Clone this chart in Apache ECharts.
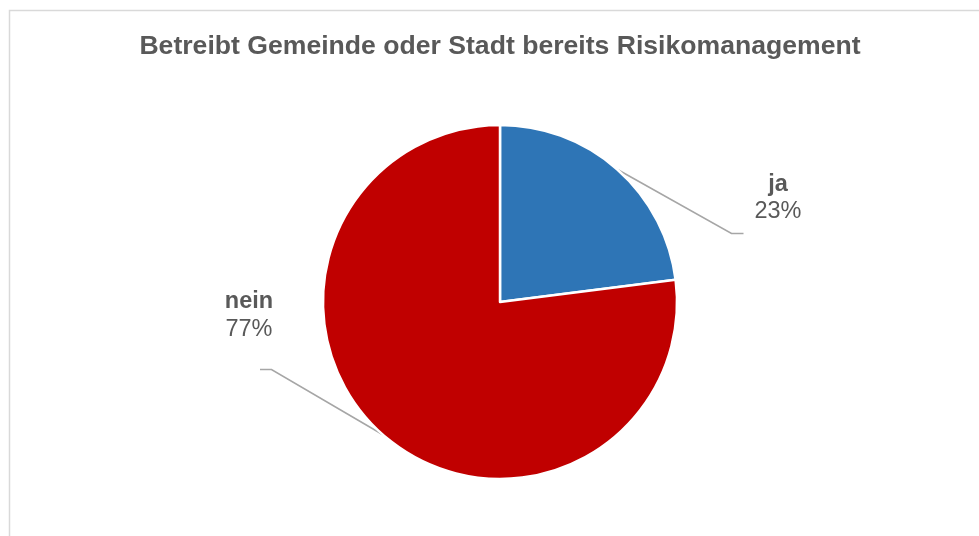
<!DOCTYPE html>
<html>
<head>
<meta charset="utf-8">
<script src="https://cdn.jsdelivr.net/npm/echarts@6/dist/echarts.min.js"></script>
<style>
html,body{margin:0;padding:0;background:#fff;}
#chart{width:979px;height:536px;}
</style>
</head>
<body>
<div id="chart"></div>
<script>
const titleText = 'Betreibt Gemeinde oder Stadt bereits Risikomanagement';
const categories = ['ja', 'nein'];
const values = [23, 77];
const colors = ['#2E75B6', '#C00000'];

// label placement (layout only)
const labelPos = [
  { x: 778, y: 198, bend: [731.5, 233.5], end: [743.5, 233.5] },
  { x: 249, y: 315.5, bend: [271.5, 369.5], end: [260, 369.5] }
];

const chart = echarts.init(document.getElementById('chart'), null, { renderer: 'canvas' });
const font = 'Liberation Sans, Arial, sans-serif';

chart.setOption({
  backgroundColor: '#ffffff',
  animation: false,
  graphic: [
    {
      type: 'rect',
      shape: { x: 9.5, y: 10.5, width: 1100, height: 700 },
      style: { fill: 'none', stroke: '#D9D9D9', lineWidth: 1.5 },
      silent: true, z: 0
    },
    {
      type: 'text',
      style: {
        text: titleText, x: 500, y: 47,
        textAlign: 'center', textVerticalAlign: 'middle',
        fontFamily: font, fontSize: 26.6, fontWeight: 'bold', fill: '#595959'
      },
      z: 10
    }
  ],
  series: [{
    type: 'pie',
    center: [500, 302],
    radius: [0, 177],
    startAngle: 90,
    clockwise: true,
    avoidLabelOverlap: false,
    itemStyle: { borderColor: '#ffffff', borderWidth: 2.5 },
    data: categories.map((c, i) => ({ name: c, value: values[i], itemStyle: { color: colors[i] } })),
    label: {
      show: true,
      position: 'outside',
      formatter: '{n|{b}}\n{p|{d}%}',
      align: 'center',
      rich: {
        n: { fontFamily: font, fontSize: 23.5, fontWeight: 'bold', color: '#595959', lineHeight: 27.5, align: 'center' },
        p: { fontFamily: font, fontSize: 23.5, color: '#595959', lineHeight: 27.5, align: 'center' }
      }
    },
    labelLine: {
      show: true,
      length: 20, length2: 10,
      lineStyle: { color: '#A6A6A6', width: 1.6 }
    },
    labelLayout: function (params) {
      const p = labelPos[params.dataIndex];
      const start = params.labelLinePoints ? params.labelLinePoints[0] : p.bend;
      return {
        x: p.x, y: p.y, align: 'center', verticalAlign: 'middle',
        labelLinePoints: [start, p.bend, p.end]
      };
    }
  }]
});
</script>
</body>
</html>
